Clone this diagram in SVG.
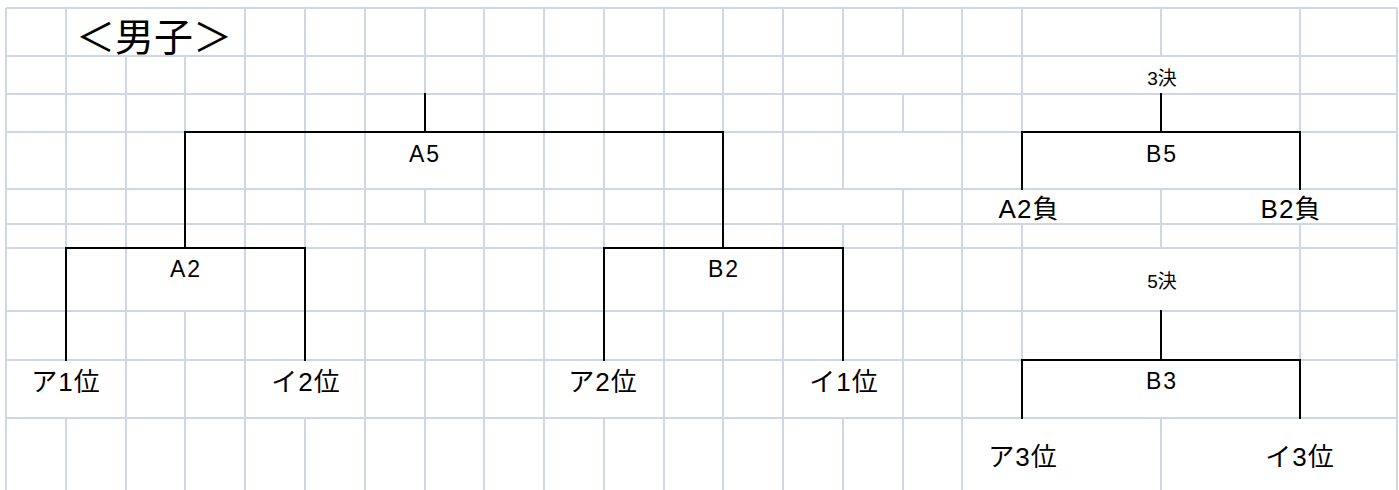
<svg xmlns="http://www.w3.org/2000/svg" width="1399" height="490" viewBox="0 0 1399 490">
<style>
.grid{fill:none;stroke:#cfd7e5;stroke-width:2}
.con{fill:none;stroke:#000;stroke-width:2;stroke-linecap:square}
text{font-family:"Liberation Sans","Noto Sans CJK JP",sans-serif;fill:#000;text-anchor:middle}
.lg{font-size:23px;letter-spacing:2px}
.lb{font-size:26px;letter-spacing:1px}
.sm{font-size:19px}
.title{font-size:39px;font-family:"Noto Sans CJK JP",sans-serif}
</style>
<rect x="0" y="0" width="1399" height="490" fill="#fff"/>
<g id="grid">
<path class="grid" d="M6 8H1397M6 56H1397M6 94H1397M6 132H1397M6 189H1397M6 224H1397M6 248H1397M6 311H1397M6 360H1397M6 418H1397
M6 8V490M66 8V360M66 418V490M126 56V490M185 56V248M185 311V490M245 8V490M305 8V360M305 418V490M365 8V490
M425 8V132M425 189V224M425 248V490M484 8V490M544 8V490M604 8V360M604 418V490M664 8V490M723 8V248M723 311V490
M783 8V490M843 8V189M843 224V360M843 418V490M903 8V56M903 94V132M903 189V490M962 8V490
M1022 8V189M1022 224V418M1161 8V56M1161 94V132M1161 189V248M1161 311V360M1161 418V490M1300 8V189M1300 224V418M1397 8V490"/>
</g>
<g id="connectors">
<path class="con" d="M425 94V132M185 248V132H723V248"/>
<path class="con" d="M66 360V248H305V360"/>
<path class="con" d="M604 360V248H843V360"/>
<path class="con" d="M1161 94V132M1022 189V132H1300V189"/>
<path class="con" d="M1161 311V360M1022 418V360H1300V418"/>
</g>
<g id="title"><text class="title" x="154" y="51">＜男子＞</text></g>
<g id="n-A5"><text class="lg" x="425" y="162">A5</text></g>
<g id="n-A2"><text class="lg" x="186" y="277">A2</text></g>
<g id="n-B2"><text class="lg" x="724" y="277">B2</text></g>
<g id="n-a1"><text class="lb" x="66" y="391">ア1位</text></g>
<g id="n-i2"><text class="lb" x="306" y="391">イ2位</text></g>
<g id="n-a2"><text class="lb" x="603" y="391">ア2位</text></g>
<g id="n-i1"><text class="lb" x="844" y="391">イ1位</text></g>
<g id="n-3k"><text class="sm" x="1162" y="85">3決</text></g>
<g id="n-B5"><text class="lg" x="1162" y="162">B5</text></g>
<g id="n-A2l"><text class="lb" x="1029" y="218">A2負</text></g>
<g id="n-B2l"><text class="lb" x="1291" y="218">B2負</text></g>
<g id="n-5k"><text class="sm" x="1162" y="288">5決</text></g>
<g id="n-B3"><text class="lg" x="1162" y="389">B3</text></g>
<g id="n-a3"><text class="lb" x="1023" y="466">ア3位</text></g>
<g id="n-i3"><text class="lb" x="1300" y="466">イ3位</text></g>
</svg>
